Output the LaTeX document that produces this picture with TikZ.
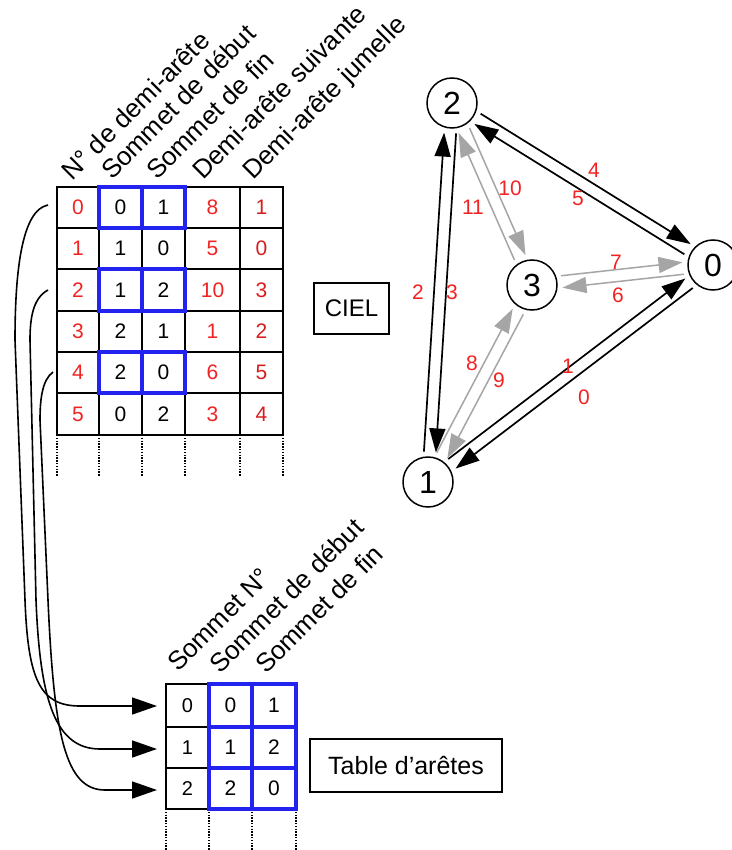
\documentclass[tikz,border=0pt]{standalone}
\usepackage{fontspec}
\setmainfont{Liberation Sans}
\usetikzlibrary{arrows.meta,calc}
\definecolor{myred}{RGB}{240,35,35}
\definecolor{myredb}{RGB}{215,30,30}
\definecolor{myblue}{RGB}{35,35,240}
\definecolor{mygrey}{RGB}{165,165,165}
\begin{document}
\begin{tikzpicture}[x=1pt,y=-1pt,
  hdr/.style={rotate=45,anchor=base west,inner sep=0pt,font=\fontsize{26}{26}\selectfont},
  cellk/.style={inner sep=0pt,font=\fontsize{21}{21}\selectfont},
  cellr/.style={cellk,text=myred},
  cellrb/.style={cellk,text=myredb},
  gridln/.style={line width=1.8pt,black},
  blueln/.style={line width=3.8pt,myblue},
  dotln/.style={line width=2.6pt,dash pattern=on 1.4pt off 1.4pt},
  vtx/.style={circle,draw,line width=1.5pt,minimum size=50pt,inner sep=0pt,font=\fontsize{32}{32}\selectfont},
  lbl/.style={inner sep=0pt,text=myred,font=\fontsize{21}{21}\selectfont},
  boxn/.style={draw,line width=1.6pt,inner sep=0pt},
  bedge/.style={line width=1.7pt,black,-{Triangle[length=24pt,width=16pt]},shorten <=30pt,shorten >=30pt},
  gedge/.style={line width=1.5pt,mygrey,-{Triangle[length=24pt,width=16pt]},shorten <=30pt,shorten >=30pt},
  curvln/.style={line width=1.6pt,black,-{Triangle[length=25pt,width=17pt]}}
]
\useasboundingbox (0,0) rectangle (731,850);

% ---------- top table (CIEL) ----------
\draw[gridln] (57,187) rectangle (283,435);
\foreach \yy in {228,269,311,352,393} \draw[gridln] (57,\yy) -- (283,\yy);
\foreach \xx in {99,142,185,240} \draw[gridln] (\xx,187) -- (\xx,435);
\foreach \xx in {57,99,142,185,240,283} \draw[dotln] (\xx,435) -- (\xx,476);
\foreach \ya/\yb in {187/228,269/311,352/393}{
  \draw[blueln] (99,\ya) rectangle (185,\yb);
  \draw[blueln] (142,\ya) -- (142,\yb);
}
\foreach \y/\a/\b/\c/\d/\e [count=\i from 0] in
  {207.5/0/0/1/8/1, 248.5/1/1/0/5/0, 290/2/1/2/10/3, 331.5/3/2/1/1/2, 372.5/4/2/0/6/5, 414/5/0/2/3/4}{
  \node[cellr]  (ta\i) at (78,\y) {\a};
  \node[cellk]  (tb\i) at (120.5,\y) {\b};
  \node[cellk]  (tc\i) at (163.5,\y) {\c};
  \node[cellr]  (td\i) at (212.5,\y) {\d};
  \node[cellrb] (te\i) at (261.5,\y) {\e};
}
\node[hdr] (h0) at (72,182) {N° de demi-arête};
\node[hdr] (h1) at (112,181) {Sommet de début};
\node[hdr] (h2) at (157,181) {Sommet de fin};
\node[hdr] (h3) at (203,181) {Demi-arête suivante};
\node[hdr] (h4) at (253,181) {Demi-arête jumelle};

\node[boxn,minimum width=75pt,minimum height=51pt,font=\fontsize{24}{24}\selectfont] (ciel) at (351.5,308.5) {CIEL};

% ---------- bottom table ----------
\draw[gridln] (166,684) rectangle (209,809);
\foreach \yy in {727,768} \draw[gridln] (166,\yy) -- (209,\yy);
\foreach \xx in {166,209,252,296} \draw[dotln] (\xx,809) -- (\xx,850);
\draw[blueln] (209,684) rectangle (296,809);
\draw[blueln] (252,684) -- (252,809);
\draw[blueln] (209,727) -- (296,727);
\draw[blueln] (209,768) -- (296,768);
\foreach \y/\a/\b/\c [count=\i from 0] in {705.5/0/0/1, 747.5/1/1/2, 788.5/2/2/0}{
  \node[cellk,font=\fontsize{20}{20}\selectfont] (ba\i) at (187.5,\y) {\a};
  \node[cellk] (bb\i) at (230.5,\y) {\b};
  \node[cellk] (bc\i) at (274,\y) {\c};
}
\node[hdr] (g0) at (178,673) {Sommet N°};
\node[hdr] (g1) at (220,675) {Sommet de début};
\node[hdr] (g2) at (266,675) {Sommet de fin};

\node[boxn,minimum width=192pt,minimum height=53pt,font=\fontsize{25}{25}\selectfont] (tda) at (406,765.5) {Table d’arêtes};

% ---------- curves ----------
\coordinate (s0) at (48,205);
\coordinate (s1) at (48,290);
\coordinate (s2) at (53,372);
\coordinate (e0) at (157,706);
\coordinate (e1) at (157,749);
\coordinate (e2) at (157,790);
\draw[curvln] (s0) .. controls (22,210) and (15,270) .. (15,340) -- (25,600)
   .. controls (28,680) and (40,706) .. (80,706) -- (e0);
\draw[curvln] (s1) .. controls (33,298) and (30,318) .. (30,340) -- (36,600)
   .. controls (40,700) and (55,749) .. (100,749) -- (e1);
\draw[curvln] (s2) .. controls (42,380) and (40,400) .. (40,420) -- (48,600)
   .. controls (54,735) and (65,790) .. (105,790) -- (e2);

% ---------- graph ----------
\node[vtx] (n2) at (452,103) {2};
\node[vtx] (n0) at (713,265) {0};
\node[vtx] (n3) at (532,285) {3};
\node[vtx] (n1) at (428,482) {1};

\def\off{6pt}
\draw[bedge] ($(n2)!\off!90:(n0)$) -- ($(n0)!\off!-90:(n2)$);
\draw[bedge] ($(n0)!\off!90:(n2)$) -- ($(n2)!\off!-90:(n0)$);
\draw[bedge] ($(n1)!\off!90:(n2)$) -- ($(n2)!\off!-90:(n1)$);
\draw[bedge] ($(n2)!\off!90:(n1)$) -- ($(n1)!\off!-90:(n2)$);
\draw[bedge] ($(n1)!\off!90:(n0)$) -- ($(n0)!\off!-90:(n1)$);
\draw[bedge] ($(n0)!\off!90:(n1)$) -- ($(n1)!\off!-90:(n0)$);
\draw[gedge] ($(n2)!\off!90:(n3)$) -- ($(n3)!\off!-90:(n2)$);
\draw[gedge] ($(n3)!\off!90:(n2)$) -- ($(n2)!\off!-90:(n3)$);
\draw[gedge] ($(n3)!\off!90:(n0)$) -- ($(n0)!\off!-90:(n3)$);
\draw[gedge] ($(n0)!\off!90:(n3)$) -- ($(n3)!\off!-90:(n0)$);
\draw[gedge] ($(n1)!\off!90:(n3)$) -- ($(n3)!\off!-90:(n1)$);
\draw[gedge] ($(n3)!\off!90:(n1)$) -- ($(n1)!\off!-90:(n3)$);

\node[lbl] (l4) at (594,170) {4};
\node[lbl] (l5) at (578,198) {5};
\node[lbl] (l10) at (510,188) {10};
\node[lbl] (l11) at (473,207) {11};
\node[lbl] (l7) at (616,262) {7};
\node[lbl] (l6) at (618,295) {6};
\node[lbl] (l2) at (418,292) {2};
\node[lbl] (l3) at (452,292) {3};
\node[lbl] (l8) at (472,363) {8};
\node[lbl] (l9) at (499,380) {9};
\node[lbl] (l1) at (568,366) {1};
\node[lbl] (l0) at (584,397) {0};
\end{tikzpicture}
\end{document}
